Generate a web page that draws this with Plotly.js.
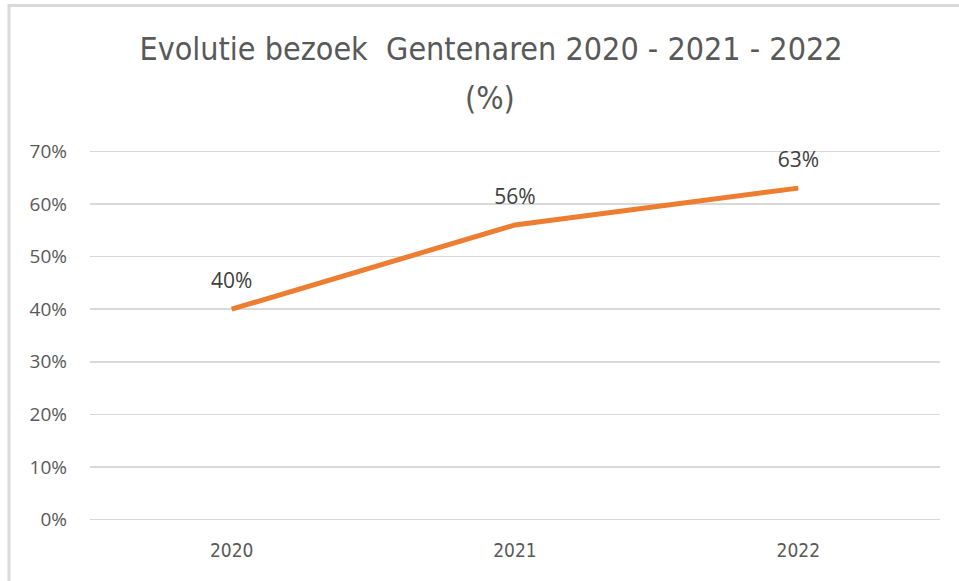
<!DOCTYPE html>
<html>
<head>
<meta charset="utf-8">
<script src="https://cdn.plot.ly/plotly-3.0.1.min.js"></script>
<style>html,body{margin:0;padding:0;background:#fff;}#chart{width:959px;height:581px;}</style>
</head>
<body>
<div id="chart"></div>
<script>
const years = ['2020', '2021', '2022'];
const visitShare = [0.40, 0.56, 0.63];
const valueLabels = ['40%', '56%', '63%'];
const yTickValues = [0, 0.1, 0.2, 0.3, 0.4, 0.5, 0.6, 0.7];
const yTickLabels = ['0%', '10%', '20%', '30%', '40%', '50%', '60%', '70%'];

const trace = {
  x: years,
  y: visitShare,
  type: 'scatter',
  mode: 'lines+markers+text',
  text: valueLabels,
  textposition: 'top center',
  textfont: {family: 'Open Sans, sans-serif', size: 21, color: '#404040'},
  line: {color: '#ED7D31', width: 5},
  marker: {size: 24, opacity: 0, color: '#ED7D31'},
  cliponaxis: false,
  hoverinfo: 'skip'
};

const layout = {
  width: 959, height: 581,
  margin: {l: 90, r: 19, t: 145.7, b: 55.7},
  paper_bgcolor: '#fff', plot_bgcolor: '#fff',
  showlegend: false,
  title: {
    text: 'Evolutie bezoek  Gentenaren 2020 - 2021 - 2022',
    font: {family: 'DejaVu Sans Condensed, Liberation Sans Narrow, sans-serif', size: 32, color: '#595959'},
    x: 0.512, xanchor: 'center', y: 0.935, yanchor: 'top'
  },
  annotations: [{
    text: '(%)', xref: 'paper', yref: 'paper', x: 0.4706, y: 1.1257,
    xanchor: 'center', yanchor: 'middle', showarrow: false,
    font: {family: 'DejaVu Sans Condensed, Liberation Sans Narrow, sans-serif', size: 32, color: '#595959'}
  }],
  xaxis: {
    type: 'category',
    range: [-0.5, 2.5],
    showgrid: false, zeroline: false, showline: false,
    ticks: '',
    ticklabelstandoff: 12,
    tickfont: {family: 'DejaVu Sans Condensed, sans-serif', size: 19, color: '#595959'},
    fixedrange: true
  },
  yaxis: {
    range: [-0.01, 0.71],
    tickvals: yTickValues,
    ticktext: yTickLabels,
    showgrid: true, gridcolor: '#D9D9D9', gridwidth: 1.5,
    zeroline: false, showline: false, ticks: '',
    ticklabelstandoff: 22,
    tickfont: {family: 'Open Sans, sans-serif', size: 19, color: '#595959'},
    fixedrange: true
  },
  shapes: [{
    type: 'rect', xref: 'paper', yref: 'paper',
    x0: -0.0953, x1: 1.05, y0: -0.3, y1: 1.371,
    line: {color: '#D9D9D9', width: 3}
  }]
};

Plotly.newPlot('chart', [trace], layout, {displayModeBar: false, staticPlot: true});
</script>
</body>
</html>
